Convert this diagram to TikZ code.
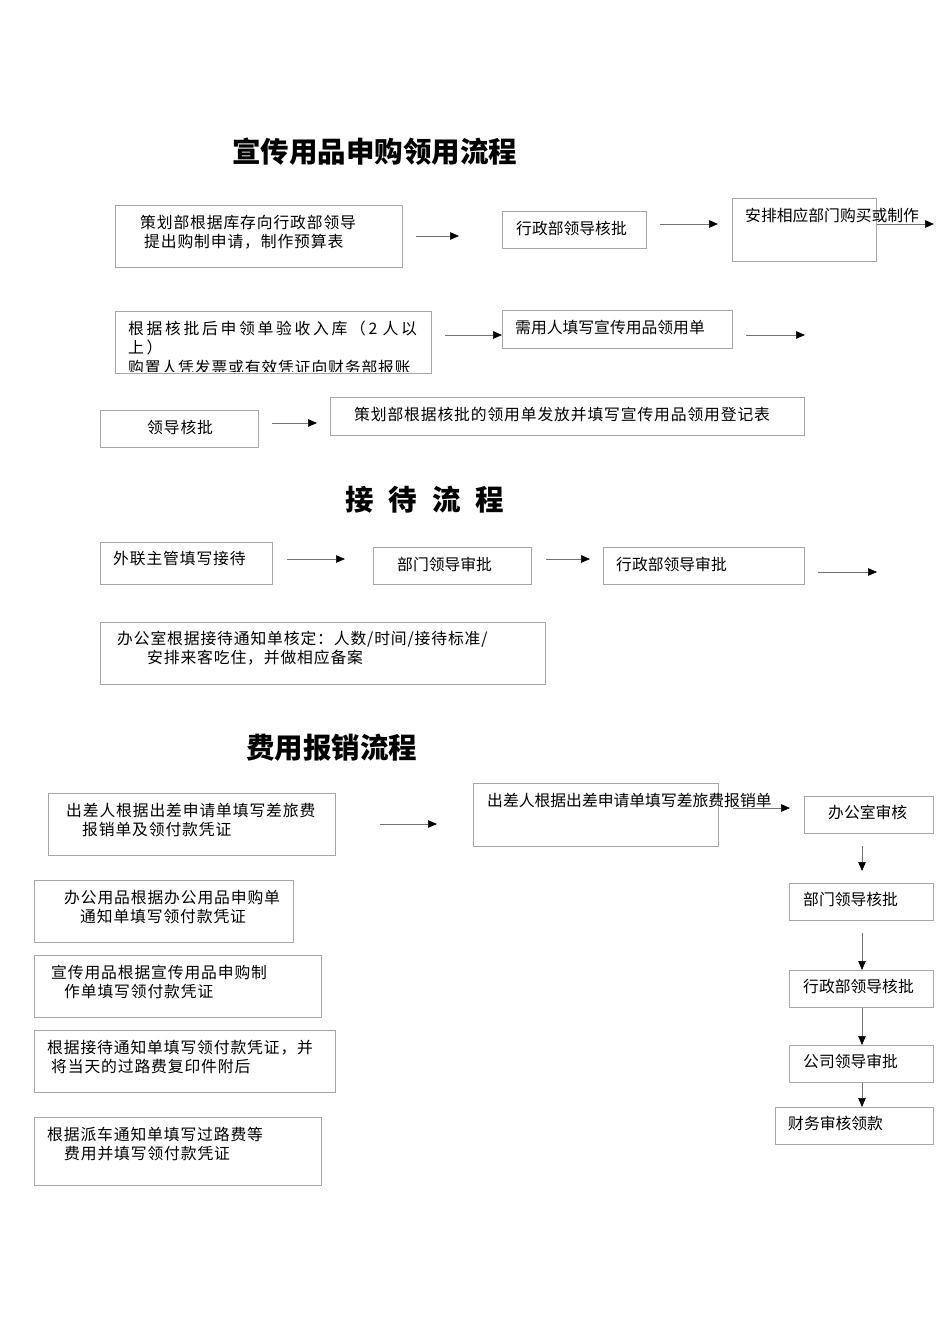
\documentclass[tikz,border=0pt]{standalone}
\usepackage{fontspec}
\setmainfont{Noto Sans CJK SC}
\newfontfamily\cjksp[LetterSpace=17]{Noto Sans CJK SC}
\newfontfamily\cjkwd[LetterSpace=5.5]{Noto Sans CJK SC}
\usetikzlibrary{arrows.meta}
\begin{document}
\begin{tikzpicture}[x=1pt,y=-1pt,
  box/.style={draw=black!35, line width=0.7pt, inner sep=0pt, anchor=north west},
  txt/.style={inner sep=0pt, anchor=north west, align=left, font=\fontsize{15.8}{19}\selectfont},
  txtw/.style={txt, font=\fontsize{15.8}{19}\selectfont\cjkwd},
  ttl/.style={inner sep=0pt, anchor=west, font=\fontsize{28.5}{32}\selectfont\bfseries},
  arr/.style={draw=black!55, line width=0.6pt, -{Triangle[length=9pt,width=7.5pt,color=black]}}]
\useasboundingbox (0,0) rectangle (950,1344);
\fill[white] (0,0) rectangle (950,1344);

% ---------- section 1 ----------
\node[ttl] (T1) at (232,152) {宣传用品申购领用流程};

\node[box, minimum width=287pt, minimum height=62pt] (B1) at (115,205) {};
\node[txtw] (B1t) at (140,215) {策划部根据库存向行政部领导\\\hspace*{4pt}提出购制申请，制作预算表};
\node[box, minimum width=144pt, minimum height=37pt] (B2) at (502,211) {};
\node[txt] (B2t) at (516,221) {行政部领导核批};
\node[box, minimum width=144pt, minimum height=63pt] (B3) at (732,198) {};
\node[txt] (B3t) at (745,208) {安排相应部门购买或制作};

\coordinate (a1s) at (416,236); \coordinate (a1e) at (459,236);
\draw[arr] (a1s) -- (a1e);
\coordinate (a2s) at (660,224); \coordinate (a2e) at (718,224);
\draw[arr] (a2s) -- (a2e);
\coordinate (a3e) at (934,224);
\draw[arr] (B3.east |- a3e) -- (a3e);

\node[box, minimum width=316pt, minimum height=62pt] (B4) at (115,311) {};
\begin{scope}
\clip (115,311) rectangle (431,371.5);
\node[txt, text width=300pt, font=\fontsize{15.8}{19.2}\selectfont\cjksp] (B4t) at (128,321) {根据核批后申领单验收入库（2 人以\\上）\\{\cjkwd 购置人凭发票或有效凭证向财务部报账}};
\end{scope}
\node[box, minimum width=230pt, minimum height=38pt] (B5) at (502,310) {};
\node[txt] (B5t) at (515,320) {需用人填写宣传用品领用单};
\coordinate (a4s) at (445,335);
\draw[arr] (a4s) -- (B5.west |- a4s);
\coordinate (a5s) at (746,335); \coordinate (a5e) at (805,335);
\draw[arr] (a5s) -- (a5e);

\node[box, minimum width=158pt, minimum height=37pt] (B6) at (100,410) {};
\node[txtw] (B6t) at (147,420) {领导核批};
\node[box, minimum width=474pt, minimum height=38pt] (B7) at (330,397) {};
\node[txtw] (B7t) at (354,407) {策划部根据核批的领用单发放并填写宣传用品领用登记表};
\coordinate (a6s) at (272,423); \coordinate (a6e) at (317,423);
\draw[arr] (a6s) -- (a6e);

% ---------- section 2 ----------
\node[ttl] (T2) at (345,500) {接\hspace{15pt}待\hspace{15pt}流\hspace{15pt}程};

\node[box, minimum width=172pt, minimum height=42pt] (C1) at (100,542) {};
\node[txtw] (C1t) at (113,551) {外联主管填写接待};
\node[box, minimum width=158pt, minimum height=37pt] (C2) at (373,547) {};
\node[txt] (C2t) at (397,557) {部门领导审批};
\node[box, minimum width=201pt, minimum height=37pt] (C3) at (603,547) {};
\node[txt] (C3t) at (616,557) {行政部领导审批};
\coordinate (b1s) at (287,559); \coordinate (b1e) at (345,559);
\draw[arr] (b1s) -- (b1e);
\coordinate (b2s) at (546,559); \coordinate (b2e) at (590,559);
\draw[arr] (b2s) -- (b2e);
\coordinate (b3s) at (818,572); \coordinate (b3e) at (877,572);
\draw[arr] (b3s) -- (b3e);

\node[box, minimum width=445pt, minimum height=62pt] (C4) at (100,622) {};
\node[txtw] (C4t) at (117,631) {办公室根据接待通知单核定：人数/时间/接待标准/\\\hspace*{30pt}安排来客吃住，并做相应备案};

% ---------- section 3 ----------
\node[ttl] (T3) at (246,748) {费用报销流程};

\node[box, minimum width=287pt, minimum height=62pt] (D1) at (48,793) {};
\node[txtw] (D1t) at (66,803) {出差人根据出差申请单填写差旅费\\\hspace*{16pt}报销单及领付款凭证};
\coordinate (c1s) at (380,824); \coordinate (c1e) at (437,824);
\draw[arr] (c1s) -- (c1e);

\node[box, minimum width=245pt, minimum height=63pt] (D2) at (473,783) {};
\node[txt] (D2t) at (487,793) {出差人根据出差申请单填写差旅费报销单};
\coordinate (c2s) at (733,808); \coordinate (c2e) at (790,808);
\draw[arr] (c2s) -- (c2e);

\node[box, minimum width=129pt, minimum height=37pt] (D3) at (804,796) {};
\node[txt] (D3t) at (828,805) {办公室审核};
\node[box, minimum width=144pt, minimum height=37pt] (D4) at (789,883) {};
\node[txt] (D4t) at (803,892) {部门领导核批};
\node[box, minimum width=144pt, minimum height=37pt] (D5) at (789,970) {};
\node[txt] (D5t) at (803,979) {行政部领导核批};
\node[box, minimum width=144pt, minimum height=37pt] (D6) at (789,1045) {};
\node[txt] (D6t) at (803,1054) {公司领导审批};
\node[box, minimum width=158pt, minimum height=37pt] (D7) at (775,1107) {};
\node[txt] (D7t) at (788,1116) {财务审核领款};

\coordinate (vx) at (862,0);
\coordinate (v1s) at (862,846); \coordinate (v1e) at (862,871);
\draw[arr] (v1s) -- (v1e);
\coordinate (v2s) at (862,933);
\draw[arr] (v2s) -- (D5.north -| vx);
\draw[arr] (D5.south -| vx) -- (D6.north -| vx);
\draw[arr] (D6.south -| vx) -- (D7.north -| vx);

\node[box, minimum width=259pt, minimum height=62pt] (E1) at (34,880) {};
\node[txtw] (E1t) at (64,890) {办公用品根据办公用品申购单\\\hspace*{16pt}通知单填写领付款凭证};
\node[box, minimum width=287pt, minimum height=62pt] (E2) at (34,955) {};
\node[txtw] (E2t) at (51,965) {宣传用品根据宣传用品申购制\\\hspace*{13pt}作单填写领付款凭证};
\node[box, minimum width=301pt, minimum height=62pt] (E3) at (34,1030) {};
\node[txtw] (E3t) at (47,1040) {根据接待通知单填写领付款凭证，并\\\hspace*{4pt}将当天的过路费复印件附后};
\node[box, minimum width=287pt, minimum height=68pt] (E4) at (34,1117) {};
\node[txtw] (E4t) at (47,1127) {根据派车通知单填写过路费等\\\hspace*{17pt}费用并填写领付款凭证};
\end{tikzpicture}
\end{document}
